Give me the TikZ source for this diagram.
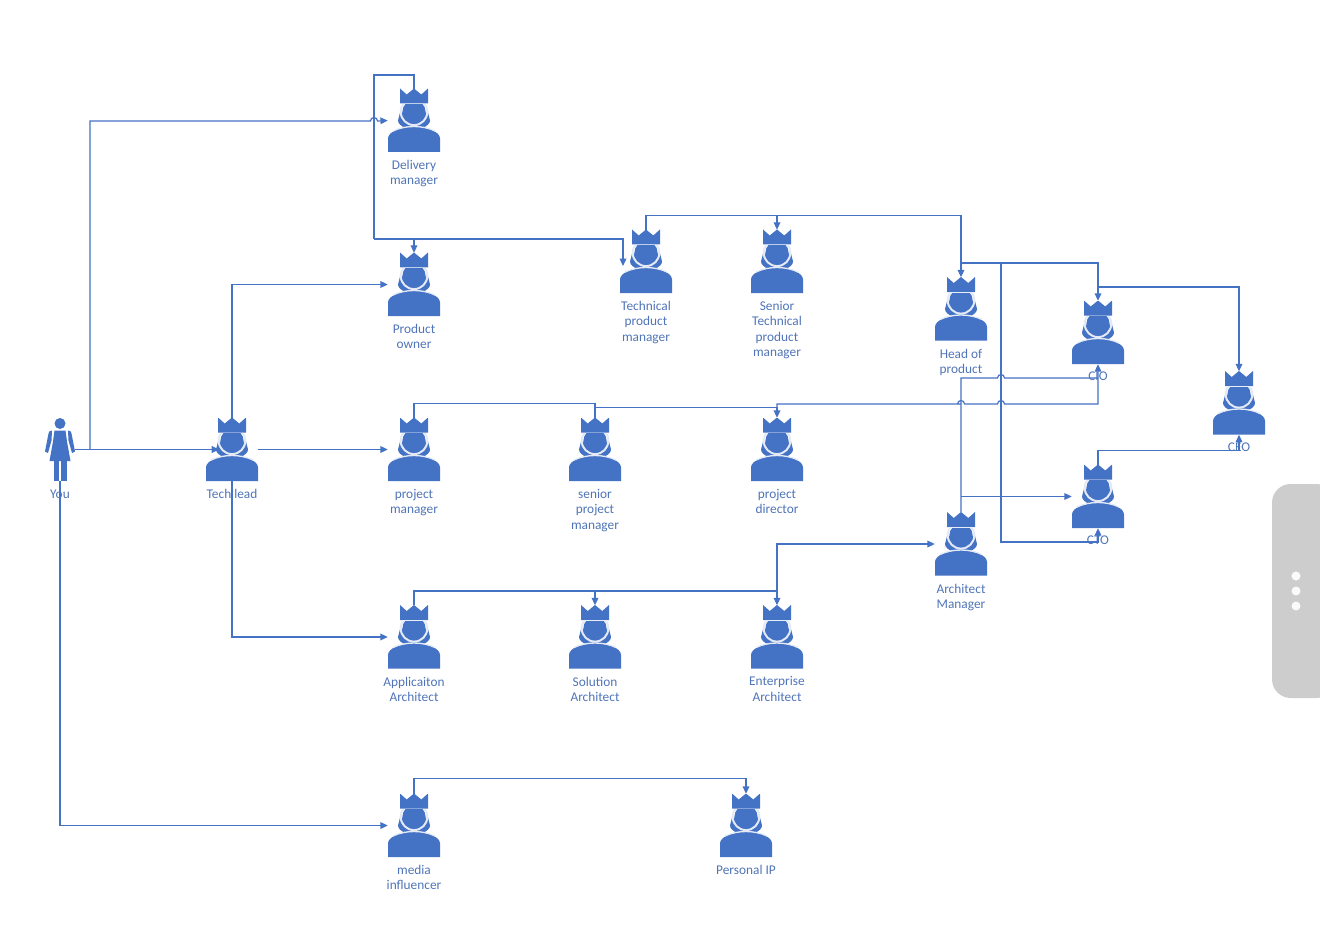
\documentclass[tikz,border=0pt]{standalone}
\usepackage{fontspec}
\setmainfont{Carlito}
\usetikzlibrary{calc, arrows.meta}
\definecolor{azul}{HTML}{4472C4}
\definecolor{texto}{HTML}{4F74B8}
\definecolor{panel}{HTML}{CDCDCD}
\newcommand{\salto}[1]{-- ($(#1)+(-3.5,0)$) arc[start angle=180,end angle=360,radius=3.5]}
\begin{document}
\begin{tikzpicture}[x=0.75pt, y=-0.75pt, >={Triangle[length=5.5pt,width=5pt]},
            etiqueta/.style={align=center, inner sep=0pt, text=texto, font=\fontsize{10}{11.5}\selectfont},
            flecha/.style={->, azul, line width=0.9pt},
            linea/.style={azul, line width=0.9pt},
            persona/.style={rectangle, inner sep=0pt, minimum width=39pt, minimum height=47.25pt,
                path picture={
                    \begin{scope}[shift={(path picture bounding box.center)}]
                        \fill[azul] (-14,-32) -- (-7.3,-26) -- (0,-32) -- (7.3,-26) -- (14,-32) -- (14,-17) -- (-14,-17) -- cycle;
                        \fill[azul] (-14,-8) -- (14,-8) -- (16,0) .. controls (16,3) and (13,6) .. (7,8) -- (-7,8) .. controls (-13,6) and (-16,3) .. (-16,0) -- cycle;
                        \begin{scope}
                            \clip (-17,-16) rectangle (17,12);
                            \draw[white!85!azul, line width=1.5pt] (0,-8.7) circle (13.3);
                            \fill[azul] (0,-8.7) circle (11.6);
                        \end{scope}
                        \fill[azul] (-26,31.5) -- (-26,18) .. controls (-26,11) and (-13,6.5) .. (0,6.5) .. controls (13,6.5) and (26,11) .. (26,18) -- (26,31.5) -- cycle;
                        \draw[white!85!azul, line width=1pt] (-21,10.5) .. controls (-15,7.5) and (-7,6) .. (0,6) .. controls (7,6) and (15,7.5) .. (21,10.5);
                    \end{scope}
                }},
            mujer/.style={rectangle, inner sep=0pt, minimum width=22.5pt, minimum height=47.25pt,
                path picture={
                    \begin{scope}[shift={(path picture bounding box.center)}]
                        \fill[azul] (0,-26) circle (5.5);
                        \fill[azul] (-5.5,-19) -- (5.5,-19) -- (7,-8) -- (10.5,11.5) -- (-10.5,11.5) -- (-7,-8) -- cycle;
                        \fill[azul] (-8,-19) .. controls (-10.5,-19) and (-11,-18) .. (-11.5,-16) -- (-15,2) -- (-12,3.5) -- (-8.5,-9) -- cycle;
                        \fill[azul] (8,-19) .. controls (10.5,-19) and (11,-18) .. (11.5,-16) -- (15,2) -- (12,3.5) -- (8.5,-9) -- cycle;
                        \fill[azul] (-6.5,11.5) rectangle (-0.8,31.5);
                        \fill[azul] (0.8,11.5) rectangle (6.5,31.5);
                    \end{scope}
                }}
        ]
            \useasboundingbox (0,0) rectangle (1320,934);

            % Side panel
            \fill[panel, rounded corners=14pt] (1335,484) -- (1272,484) -- (1272,698) -- (1335,698) -- cycle;
            \fill[white!90!panel] (1296,576) circle (4.5);
            \fill[white!90!panel] (1296,591) circle (4.5);
            \fill[white!90!panel] (1296,606) circle (4.5);

            % You and tech lead
            \node[mujer, label={[etiqueta, label distance=6.5pt]below:You}] (you) at (60,449.5) {};
            \node[persona, label={[etiqueta, label distance=5.8pt]below:Tech lead}] (tl) at (232,449.5) {};

            % First column
            \node[persona, label={[etiqueta, label distance=5.8pt]below:Delivery\\manager}] (dm) at (414,120.5) {};
            \node[persona, label={[etiqueta, label distance=5.8pt]below:Product\\owner}] (po) at (414,284.5) {};
            \node[persona, label={[etiqueta, label distance=5.8pt]below:project\\manager}] (pm) at (414,449.5) {};
            \node[persona, label={[etiqueta, label distance=5.8pt]below:Applicaiton\\Architect}] (aa) at (414,637) {};
            \node[persona, label={[etiqueta, label distance=5.8pt]below:media\\influencer}] (mi) at (414,825.5) {};

            % Technical product
            \node[persona, label={[etiqueta, label distance=5.8pt]below:Technical\\product\\manager}] (tpm) at (646,261.5) {};
            \node[persona, label={[etiqueta, label distance=5.8pt]below:Senior\\Technical\\product\\manager}] (stpm) at (777,261.5) {};

            % Project
            \node[persona, label={[etiqueta, label distance=5.8pt]below:senior\\project\\manager}] (spm) at (595,449.5) {};
            \node[persona, label={[etiqueta, label distance=5.8pt]below:project\\director}] (pd) at (777,449.5) {};

            % Architects
            \node[persona, label={[etiqueta, label distance=5.8pt]below:Solution\\Architect}] (sa) at (595,637) {};
            \node[persona, label={[etiqueta, label distance=5.8pt]below:Enterprise\\Architect}] (ea) at (777,637) {};
            \node[persona, label={[etiqueta, label distance=5.8pt]below:Architect\\Manager}] (am) at (961,544) {};

            % Personal IP
            \node[persona, label={[etiqueta, label distance=5.8pt]below:Personal IP}] (ip) at (746,825.5) {};

            % Top of the ladder
            \node[persona, label={[etiqueta, label distance=5.8pt]below:Head of\\product}] (hp) at (961,309) {};
            \node[persona, label={[etiqueta, label distance=5.8pt]below:CIO}] (cio) at (1098,332.5) {};
            \node[persona, label={[etiqueta, label distance=5.8pt]below:CTO}] (cto) at (1098,496.5) {};
            \node[persona, label={[etiqueta, label distance=5.8pt]below:CEO}] (ceo) at (1239,403) {};

            % Free ends and crossings
            \coordinate (you_up) at (90,449.5);
            \coordinate (cross_dm) at (374,121);
            \coordinate (dm_top) at (374,75);
            \coordinate (dm_low) at (374,239);
            \coordinate (tpm_tip) at (623,266);
            \coordinate (hp_bus) at (961,263);
            \coordinate (cto_bus) at (1001,263);
            \coordinate (cto_low) at (1001,542);
            \coordinate (cio_up) at (1098,287);
            \coordinate (pd_up) at (777,404);
            \coordinate (cross_pd1) at (961,404);
            \coordinate (cross_pd2) at (1001,404);
            \coordinate (cross_am) at (1001,378);
            \coordinate (am_top) at (961,378);
            \coordinate (am_side) at (961,496.5);
            \coordinate (ea_up) at (777,591);

            % From you
            \draw[flecha, shorten >=-10pt] (you.east) -- (tl.west);
            \draw[flecha] (you_up) -- (you_up |- cross_dm) \salto{cross_dm} -- (dm.west);
            \draw[flecha] (you.south) |- (mi.west);

            % From tech lead
            \draw[flecha] (tl.north) |- (po.west);
            \draw[flecha] (tl.east) -- (pm.west);
            \draw[flecha] (tl.south) |- (aa.west);

            % Delivery and technical product
            \draw[linea] (dm.north) |- (dm_top) -- (dm_low);
            \draw[flecha] (dm_low) -| (po.north);
            \draw[flecha] (dm_low) -| (tpm_tip);
            \draw[flecha] (tpm.north) |- ($(hp.north)+(0,-62)$) -- (hp.north);
            \draw[flecha] (stpm.north |- tpm.north) ++(0,-14) -- (stpm.north);

            % Head of product upwards
            \draw[flecha] (hp_bus) -| (cio.north);
            \draw[flecha] (cto_bus) -- (cto_low) -| (cto.south);
            \draw[flecha] (cio_up) -| (ceo.north);
            \draw[flecha] (cto.north) |- ($(ceo.south)+(0,16)$) -- (ceo.south);

            % Project line
            \draw[linea] (pm.north) |- ($(spm.north)+(0,-14)$) -- (spm.north);
            \draw[flecha] (spm.north) |- ($(pd.north)+(0,-10)$) -- (pd.north);
            \draw[flecha] (pd_up |- pd.north) ++(0,-10) -- (pd_up) -- (cross_pd1 |- pd_up) \salto{cross_pd1} \salto{cross_pd2} -| (cio.south);

            % Architect line
            \draw[flecha] (aa.north) |- (ea_up) -- (ea.north);
            \draw[flecha] (sa.north |- ea_up) -- (sa.north);
            \draw[flecha] (ea_up) |- (am.west);
            \draw[linea] (am.north) -- (am_top) \salto{cross_am} -- (cio.south |- am_top);
            \draw[flecha] (am_side) -- (cto.west);

            % Media
            \draw[flecha] (mi.north) |- ($(ip.north)+(0,-15)$) -- (ip.north);
        \end{tikzpicture}
\end{document}
